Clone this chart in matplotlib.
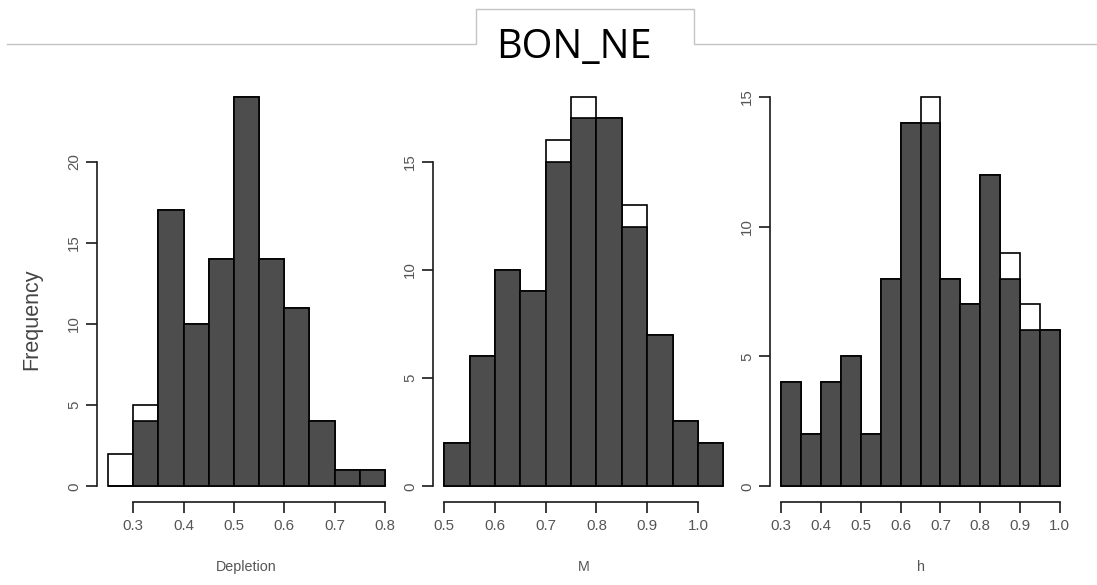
import numpy as np
import matplotlib
matplotlib.use("Agg")
import matplotlib.pyplot as plt
from matplotlib.lines import Line2D

# ---- data: bin edges, counts for all runs (white) and retained runs (dark) ----
depletion_edges = [0.25, 0.30, 0.35, 0.40, 0.45, 0.50, 0.55, 0.60, 0.65, 0.70, 0.75, 0.80]
depletion_all = [2, 5, 17, 10, 14, 24, 14, 11, 4, 1, 1]
depletion_kept = [0, 4, 17, 10, 14, 24, 14, 11, 4, 1, 1]

m_edges = [0.50, 0.55, 0.60, 0.65, 0.70, 0.75, 0.80, 0.85, 0.90, 0.95, 1.00, 1.05]
m_all = [2, 6, 10, 9, 16, 18, 17, 13, 7, 3, 2]
m_kept = [2, 6, 10, 9, 15, 17, 17, 12, 7, 3, 2]

h_edges = [0.30, 0.35, 0.40, 0.45, 0.50, 0.55, 0.60, 0.65, 0.70, 0.75, 0.80, 0.85, 0.90, 0.95, 1.00]
h_all = [4, 2, 4, 5, 2, 8, 14, 15, 8, 7, 12, 9, 7, 6]
h_kept = [4, 2, 4, 5, 2, 8, 14, 14, 8, 7, 12, 8, 6, 6]

x_ticks = [
    [0.3, 0.4, 0.5, 0.6, 0.7, 0.8],
    [0.5, 0.6, 0.7, 0.8, 0.9, 1.0],
    [0.3, 0.4, 0.5, 0.6, 0.7, 0.8, 0.9, 1.0],
]
y_ticks = [
    [0, 5, 10, 15, 20],
    [0, 5, 10, 15],
    [0, 5, 10, 15],
]
x_labels = ["Depletion", "M", "h"]
title = "BON_NE"

# ---- layout (pixels) ----
W, H = 1097, 585
fig = plt.figure(figsize=(W / 100, H / 100), dpi=100)
fig.patch.set_facecolor("white")

def fx(x):
    return x / W

def fy(y):
    return 1 - y / H

# plot regions: (left, right, top, bottom) in pixels
regions = [(97, 396, 81, 502), (433, 734.6, 81, 502), (770, 1071, 81, 502)]

panels = [
    (depletion_edges, depletion_all, depletion_kept),
    (m_edges, m_all, m_kept),
    (h_edges, h_all, h_kept),
]

line_col = "#1a1a1a"
text_col = "#555555"
dark = "#4d4d4d"

for i, ((edges, full, kept), (l, r, t, b)) in enumerate(zip(panels, regions)):
    ax = fig.add_axes([fx(l), fy(b), fx(r) - fx(l), (b - t) / H])
    edges = np.asarray(edges)
    widths = np.diff(edges)
    ax.bar(edges[:-1], full, width=widths, align="edge",
           facecolor="white", edgecolor="black", linewidth=1.2, zorder=2)
    ax.bar(edges[:-1], kept, width=widths, align="edge",
           facecolor=dark, edgecolor="black", linewidth=1.2, zorder=3)

    # R-style 4% axis extension
    span = edges[-1] - edges[0]
    ax.set_xlim(edges[0] - 0.04 * span, edges[-1] + 0.04 * span)
    ymax = max(full)
    ax.set_ylim(-0.04 * ymax, ymax * 1.04)

    for s in ("top", "right"):
        ax.spines[s].set_visible(False)
    for s in ("left", "bottom"):
        ax.spines[s].set_color(line_col)
        ax.spines[s].set_linewidth(1.2)
    ax.spines["bottom"].set_bounds(x_ticks[i][0], x_ticks[i][-1])
    ax.spines["left"].set_bounds(y_ticks[i][0], y_ticks[i][-1])

    ax.set_xticks(x_ticks[i])
    ax.set_xticklabels([f"{v:.1f}" for v in x_ticks[i]])
    ax.set_yticks(y_ticks[i])
    ax.set_yticklabels([str(v) for v in y_ticks[i]], rotation=90, va="center")
    ax.tick_params(axis="both", direction="out", length=7.6, width=1.2,
                   color=line_col, labelcolor=text_col, labelsize=10.8)
    ax.tick_params(axis="x", pad=4.5)
    ax.tick_params(axis="y", pad=4)
    for lab in ax.get_xticklabels() + ax.get_yticklabels():
        lab.set_fontfamily("Liberation Sans")
    ax.set_facecolor("none")

    fig.text(fx((l + r) / 2), fy(571), x_labels[i], ha="center", va="baseline",
             fontsize=10.3, color=text_col, family="Liberation Sans")

fig.text(fx(32), fy(319), "Frequency", rotation=90, ha="center", va="center",
         fontsize=15.5, color="#444444", family="Liberation Sans")

# title tab with rule
tab_col = "#c4c4c4"
xs = [7, 475.7, 475.7, 694.3, 694.3, W]
ys = [44.3, 44.3, 9.3, 9.3, 44.3, 44.3]
fig.add_artist(Line2D([fx(x) for x in xs], [fy(y) for y in ys],
                      color=tab_col, linewidth=1.0, transform=fig.transFigure))
fig.text(fx(574), fy(58.3), title, ha="center", va="baseline",
         fontsize=28.5, color="black", family="Open Sans")

fig.savefig("out.png", dpi=100, facecolor="white")
